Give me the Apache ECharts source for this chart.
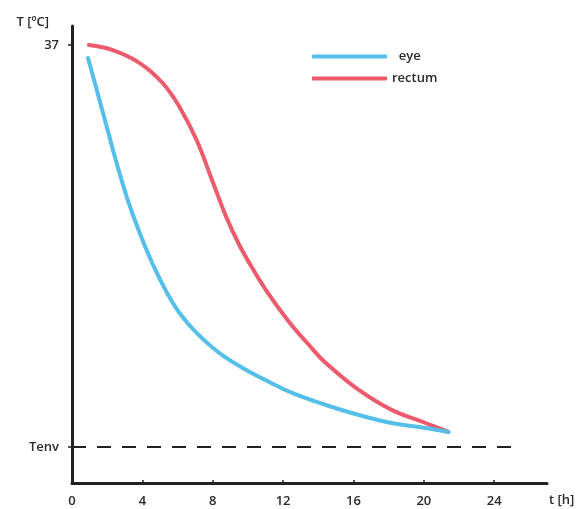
<!DOCTYPE html>
<html>
<head>
    <meta charset="utf-8">
    <script src="https://cdn.jsdelivr.net/npm/echarts@6/dist/echarts.min.js"></script>
    <style>
        html, body { margin: 0; padding: 0; background: #fff; }
        #container { width: 580px; height: 509px; }
    </style>
</head>
<body>
<div id="container"></div>
<script>
    // data (t in hours, T with Tenv placed at 10)
    let eyeT = [0.91, 1.47, 2.04, 2.60, 3.17, 3.85, 4.58, 5.38, 6.11, 7.08, 8.38, 9.91, 11.21, 12.51, 14.43, 16.30, 18.17, 20.09, 21.40];
    let eyeV = [36.13, 33.71, 31.22, 28.81, 26.59, 24.37, 22.30, 20.40, 19.00, 17.66, 16.31, 15.17, 14.37, 13.63, 12.82, 12.15, 11.61, 11.28, 11.01];
    let rectumT = [0.96, 2.32, 3.85, 5.15, 6.11, 7.08, 7.98, 8.77, 9.51, 10.25, 11.21, 12.34, 13.47, 14.43, 16.30, 18.17, 20.09, 21.40];
    let rectumV = [37.00, 36.66, 35.79, 34.45, 32.84, 30.62, 27.87, 25.45, 23.57, 22.02, 20.21, 18.40, 16.85, 15.64, 13.83, 12.49, 11.61, 11.01];
    let tenvT = [0, 25.25];
    let tenvV = [10, 10];
    let xTicks = [0, 4, 8, 12, 16, 20, 24];
    let yTicks = [10, 37];
    let yTickLabels = ['Tenv', '37'];

    function pairs(xs, ys) {
        return xs.map(function (x, i) { return [x, ys[i]]; });
    }

    let font = 'Open Sans';
    let txt = {fontFamily: font, fontSize: 13, fontWeight: 600, color: '#2a2a2a'};
    let dom = document.getElementById("container");
    let myChart = echarts.init(dom, null, {renderer: 'canvas'});
    let option = {
        animation: false,
        backgroundColor: '#fff',
        grid: {
            left: 72,
            right: 33,
            top: 26,
            bottom: 26,
            containLabel: false,
            outerBoundsMode: 'none'
        },
        legend: {
            data: ['eye', 'rectum'],
            orient: 'vertical',
            left: 307,
            top: 45,
            itemWidth: 75,
            itemHeight: 4,
            itemGap: 9,
            icon: 'roundRect',
            formatter: function (name) {
                return name === 'eye' ? '  eye' : name;
            },
            textStyle: txt
        },
        xAxis: {
            type: 'value',
            min: 0,
            max: 27,
            name: 't [h]',
            nameLocation: 'end',
            nameGap: 2,
            nameTextStyle: Object.assign({}, txt, {verticalAlign: 'top', padding: [11, 0, 0, 0]}),
            splitLine: {show: false},
            axisLine: {lineStyle: {color: '#222', width: 3}},
            axisTick: {show: true, inside: true, length: 3, customValues: xTicks, lineStyle: {color: '#222', width: 1.5}},
            axisLabel: Object.assign({customValues: xTicks, margin: 12}, txt)
        },
        yAxis: {
            type: 'value',
            min: 7.58,
            max: 38.28,
            name: 'T [ºC]',
            nameLocation: 'end',
            nameGap: 4,
            nameTextStyle: Object.assign({}, txt, {align: 'right', verticalAlign: 'middle', padding: [0, 23, 0, 0]}),
            splitLine: {show: false},
            axisLine: {lineStyle: {color: '#222', width: 3}},
            axisTick: {show: true, length: 4, customValues: yTicks, lineStyle: {color: '#222', width: 1.5}},
            axisLabel: Object.assign({
                customValues: yTicks,
                margin: 13,
                formatter: function (v) {
                    let i = yTicks.indexOf(v);
                    return i >= 0 ? yTickLabels[i] : '';
                }
            }, txt)
        },
        series: [{
            name: 'Tenv',
            type: 'line',
            data: pairs(tenvT, tenvV),
            symbol: 'none',
            silent: true,
            lineStyle: {color: '#222', width: 2, type: [14, 11]},
            z: 1
        }, {
            name: 'eye',
            type: 'line',
            data: pairs(eyeT, eyeV),
            smooth: 0.4,
            symbol: 'none',
            itemStyle: {color: '#55bfea'},
            lineStyle: {color: '#55bfea', width: 4, cap: 'round'},
            z: 3
        }, {
            name: 'rectum',
            type: 'line',
            data: pairs(rectumT, rectumV),
            smooth: 0.4,
            symbol: 'none',
            itemStyle: {color: '#ec5a6c'},
            lineStyle: {color: '#ec5a6c', width: 4, cap: 'round'},
            z: 2
        }]
    };
    myChart.setOption(option);
</script>
</body>
</html>
